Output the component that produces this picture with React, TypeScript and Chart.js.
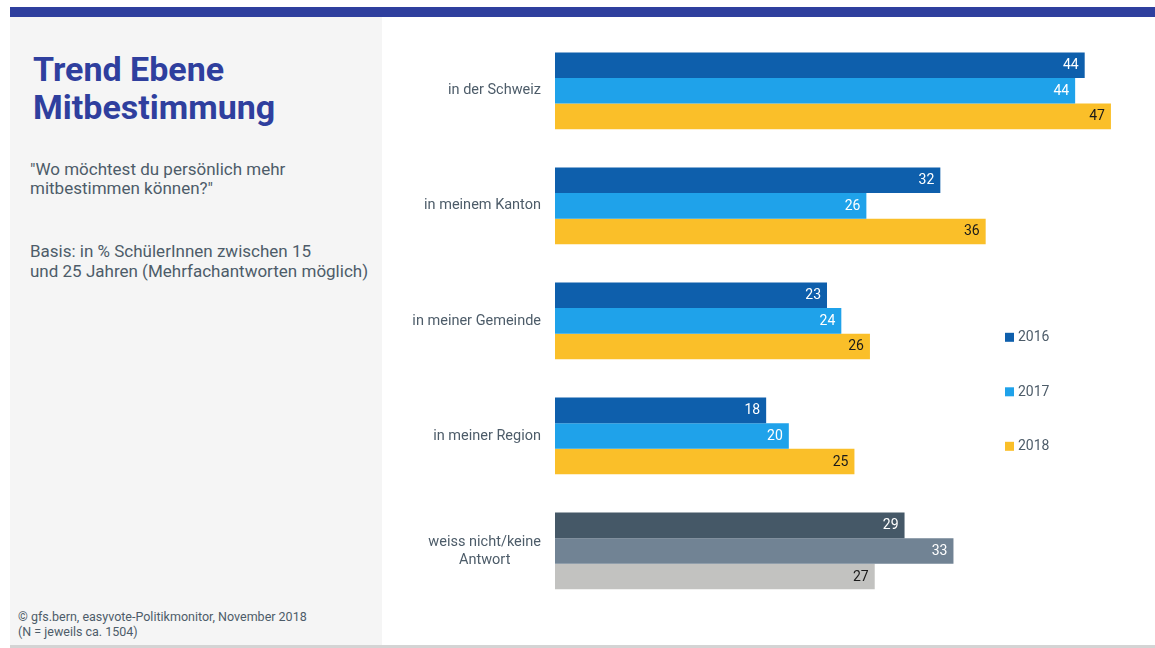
import React, { useEffect, useRef } from "react";
import { Chart, registerables } from "chart.js";

Chart.register(...registerables);

const FONT = 'Roboto, "Noto Sans", sans-serif';
const TEXT_COLOR = "#4d5c69";
const TITLE_COLOR = "#2f3f9e";

const categories: (string | string[])[] = [
  "in der Schweiz",
  "in meinem Kanton",
  "in meiner Gemeinde",
  "in meiner Region",
  ["weiss nicht/keine", "Antwort"],
];
const years = ["2016", "2017", "2018"];
const values2016 = [44.4, 32.3, 22.8, 17.7, 29.3];
const values2017 = [43.6, 26.1, 24.0, 19.6, 33.4];
const values2018 = [46.6, 36.1, 26.4, 25.1, 26.8];
const seriesColors = ["#0e5fac", "#1fa2ea", "#fabf29"];
const neutralColors = ["#455867", "#718394", "#c2c2c0"];
const labelColors = ["#ffffff", "#ffffff", "#1a1a1a"];
const xMax = 50;

const seriesValues = [values2016, values2017, values2018];

const valueLabelPlugin = {
  id: "valueLabels",
  afterDatasetsDraw(chart: any) {
    const ctx = chart.ctx;
    ctx.save();
    ctx.font = "14px " + FONT;
    ctx.textAlign = "right";
    ctx.textBaseline = "middle";
    chart.data.datasets.forEach((ds: any, di: number) => {
      const meta = chart.getDatasetMeta(di);
      meta.data.forEach((el: any, i: number) => {
        const v = ds.data[i] as number;
        ctx.fillStyle = labelColors[di];
        ctx.fillText(String(Math.round(v)), el.x - 6, el.y + 0.5);
      });
    });
    ctx.restore();
  },
};

const categoryLabelPlugin = {
  id: "categoryLabels",
  afterDraw(chart: any) {
    const ctx = chart.ctx;
    const yScale = chart.scales.y;
    ctx.save();
    ctx.font = "14.5px " + FONT;
    ctx.fillStyle = TEXT_COLOR;
    ctx.textBaseline = "middle";
    ctx.textAlign = "center";
    const right = chart.chartArea.left - 14;
    (chart.data.labels as (string | string[])[]).forEach((c, i) => {
      const lines = Array.isArray(c) ? c : [c];
      const cy = yScale.getPixelForValue(i);
      const w = Math.max(...lines.map((l) => ctx.measureText(l).width));
      const lh = 18;
      lines.forEach((l, k) => {
        const ly = cy + (k - (lines.length - 1) / 2) * lh;
        ctx.fillText(l, right - w / 2, ly);
      });
    });
    ctx.restore();
  },
};

const legendPlugin = {
  id: "sideLegend",
  afterDraw(chart: any) {
    const ctx = chart.ctx;
    const { left, top } = chart.chartArea;
    ctx.save();
    ctx.font = "14px " + FONT;
    ctx.textBaseline = "middle";
    ctx.textAlign = "left";
    chart.data.datasets.forEach((ds: any, di: number) => {
      const cy = top + 304 + di * 54.5;
      const sx = left + 450;
      ctx.fillStyle = seriesColors[di];
      ctx.fillRect(sx, cy - 4.5, 9, 9);
      ctx.fillStyle = TEXT_COLOR;
      ctx.fillText(ds.label, sx + 13, cy + 0.5);
    });
    ctx.restore();
  },
};

export default function App() {
  const ref = useRef<HTMLCanvasElement>(null);

  useEffect(() => {
    const last = categories.length - 1;
    const chart = new Chart(ref.current as HTMLCanvasElement, {
      type: "bar",
      data: {
        labels: categories as any,
        datasets: years.map((y, di) => ({
          label: y,
          data: seriesValues[di],
          backgroundColor: categories.map((_, i) =>
            i === last ? neutralColors[di] : seriesColors[di]
          ),
          borderWidth: 0,
          barPercentage: 1,
          categoryPercentage: 0.6675,
        })),
      },
      options: {
        indexAxis: "y",
        animation: false,
        responsive: false,
        maintainAspectRatio: false,
        layout: { padding: { left: 173, right: 3.5, top: 16.3, bottom: 36.5 } },
        plugins: {
          legend: { display: false },
          tooltip: { enabled: false },
        },
        scales: {
          x: { display: false, min: 0, max: xMax },
          y: { display: false },
        },
      },
      plugins: [valueLabelPlugin, categoryLabelPlugin, legendPlugin],
    });
    return () => chart.destroy();
  }, []);

  const textStyle: React.CSSProperties = {
    position: "absolute",
    color: TEXT_COLOR,
    whiteSpace: "nowrap",
    margin: 0,
  };

  return (
    <div
      style={{
        position: "absolute",
        left: 0,
        top: 0,
        width: 1155,
        height: 648,
        background: "#ffffff",
        overflow: "hidden",
        fontFamily: FONT,
      }}
    >
      <div style={{ position: "absolute", left: 10, top: 7, width: 1145, height: 10, background: TITLE_COLOR }} />
      <div style={{ position: "absolute", left: 10, top: 17, width: 372, height: 628, background: "#f5f5f5" }} />
      <div style={{ position: "absolute", left: 10, top: 645, width: 1145, height: 3, background: "#d4d4d4" }} />
      <div
        style={{
          ...textStyle,
          left: 33,
          top: 50.4,
          fontSize: 34,
          lineHeight: "38px",
          fontWeight: 700,
          color: TITLE_COLOR,
        }}
      >
        Trend Ebene
        <br />
        Mitbestimmung
      </div>
      <div style={{ ...textStyle, left: 30, top: 160.4, fontSize: 17, lineHeight: "19px" }}>
        "Wo möchtest du persönlich mehr
        <br />
        mitbestimmen können?"
      </div>
      <div style={{ ...textStyle, left: 30, top: 240.9, fontSize: 17, lineHeight: "20px" }}>
        Basis: in % SchülerInnen zwischen 15
        <br />
        und 25 Jahren (Mehrfachantworten möglich)
      </div>
      <div style={{ ...textStyle, left: 18, top: 609.2, fontSize: 12.5, lineHeight: "15px" }}>
        © gfs.bern, easyvote-Politikmonitor, November 2018
        <br />
        (N = jeweils ca. 1504)
      </div>
      <div style={{ position: "absolute", left: 382, top: 17, width: 773, height: 628 }}>
        <canvas ref={ref} width={773} height={628} style={{ display: "block", width: 773, height: 628 }} />
      </div>
    </div>
  );
}
